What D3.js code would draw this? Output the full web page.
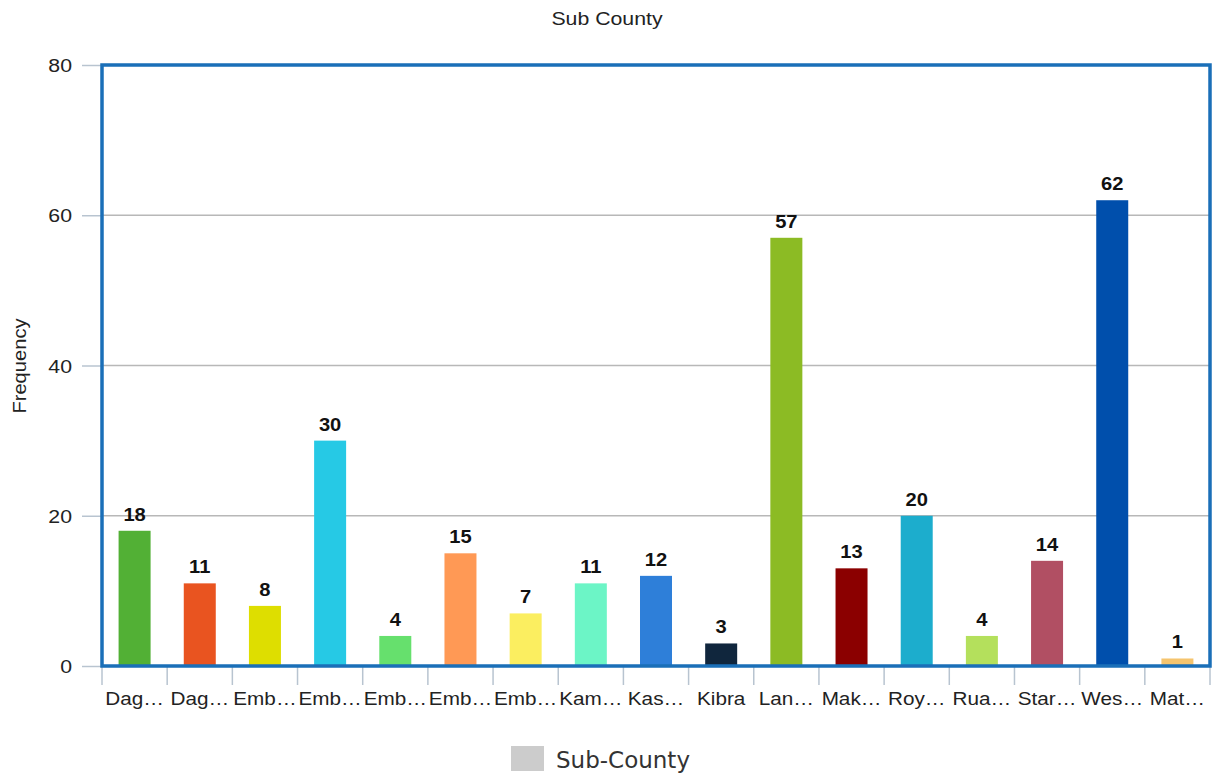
<!DOCTYPE html>
<html>
<head>
<meta charset="utf-8">
<script src="https://cdn.jsdelivr.net/npm/d3@7"></script>
<style>
  html, body { margin: 0; padding: 0; background: #fff; }
  svg { display: block; }
</style>
</head>
<body>
<svg id="chart" width="1213" height="775"></svg>
<script>
// Sub-county labels as shown on the axis, with their counts and bar colours
const categories = ["Dag…", "Dag…", "Emb…", "Emb…", "Emb…", "Emb…", "Emb…", "Kam…", "Kas…", "Kibra", "Lan…", "Mak…", "Roy…", "Rua…", "Star…", "Wes…", "Mat…"];
const values = [18, 11, 8, 30, 4, 15, 7, 11, 12, 3, 57, 13, 20, 4, 14, 62, 1];
const colors = ["#52b035", "#e95420", "#dede00", "#26c9e5", "#66e06d", "#ff9955", "#fbee60", "#6cf5c6", "#2e7fd9", "#10263d", "#8cbb24", "#8b0000", "#1cadcd", "#b4e05c", "#b14f63", "#004fac", "#f5c46e"];
const yTicks = [0, 20, 40, 60, 80];

const svg = d3.select("#chart");
const margin = { left: 102, right: 1210, top: 65, bottom: 666 };
const FONT = "Liberation Sans, Arial, sans-serif";
const SX = 1.12; // the chart's lettering is set slightly wide

const x = d3.scaleBand()
  .domain(d3.range(categories.length))
  .range([margin.left, margin.right])
  .paddingInner(0)
  .paddingOuter(0);

const y = d3.scaleLinear().domain([0, 80]).range([margin.bottom, margin.top]);

// Wide-set text helper
function label(g, px, py, str, opts = {}) {
  return g.append("text")
    .attr("transform", `translate(${px},${py})${opts.rotate ? ` rotate(${opts.rotate})` : ""} scale(${SX},1)`)
    .attr("text-anchor", opts.anchor || "middle")
    .attr("font-family", FONT)
    .attr("font-size", opts.size || 18)
    .attr("font-weight", opts.weight || "normal")
    .attr("fill", opts.fill || "#222")
    .text(str);
}

// Horizontal grid lines
svg.append("g")
  .selectAll("line")
  .data(yTicks.filter(d => d > 0 && d < 80))
  .join("line")
  .attr("x1", margin.left)
  .attr("x2", margin.right)
  .attr("y1", d => y(d))
  .attr("y2", d => y(d))
  .attr("stroke", "#b8b8b8")
  .attr("stroke-width", 1.3);

// Y axis ticks
const yAxis = d3.axisLeft(y).tickValues(yTicks).tickSize(20).tickFormat("");
const gy = svg.append("g")
  .attr("transform", `translate(${margin.left},0)`)
  .call(yAxis);
gy.select(".domain").remove();
gy.selectAll(".tick line").attr("stroke", "#b8c4d0").attr("stroke-width", 1.5);

// Y tick labels
const gyl = svg.append("g");
yTicks.forEach(t => label(gyl, 72, y(t) + 7, d3.format("d")(t), { anchor: "end", size: 19 }));

// X axis: boundary ticks between categories, labels centred on each band
const boundaries = d3.range(categories.length + 1).map(i => margin.left + i * x.bandwidth());
svg.append("g")
  .selectAll("line")
  .data(boundaries)
  .join("line")
  .attr("x1", d => d)
  .attr("x2", d => d)
  .attr("y1", margin.bottom)
  .attr("y2", margin.bottom + 19)
  .attr("stroke", "#b8c4d0")
  .attr("stroke-width", 1.5);

const gxl = svg.append("g");
categories.forEach((c, i) => label(gxl, x(i) + x.bandwidth() / 2, 705, c, { size: 18.5 }));

// Bars
const barW = 32;
svg.append("g")
  .selectAll("rect")
  .data(values)
  .join("rect")
  .attr("x", (d, i) => x(i) + x.bandwidth() / 2 - barW / 2)
  .attr("y", d => y(d))
  .attr("width", barW)
  .attr("height", d => y(0) - y(d))
  .attr("fill", (d, i) => colors[i]);

// Value labels
const gv = svg.append("g");
values.forEach((v, i) => label(gv, x(i) + x.bandwidth() / 2, y(v) - 10, v, { size: 18, weight: "bold", fill: "#111" }));

// Plot frame
svg.append("rect")
  .attr("x", margin.left)
  .attr("y", margin.top)
  .attr("width", margin.right - margin.left)
  .attr("height", margin.bottom - margin.top)
  .attr("fill", "none")
  .attr("stroke", "#1a6fb8")
  .attr("stroke-width", 3.5);

// Titles
label(svg, 607, 25, "Sub County", { size: 19 });
label(svg, 26, 366, "Frequency", { size: 18, rotate: -90 });

// Legend
svg.append("rect")
  .attr("x", 511)
  .attr("y", 746)
  .attr("width", 33)
  .attr("height", 25)
  .attr("fill", "#cccccc");
svg.append("text")
  .attr("x", 556)
  .attr("y", 768)
  .attr("font-family", "DejaVu Sans, sans-serif")
  .attr("font-size", 23)
  .attr("fill", "#333")
  .text("Sub-County");
</script>
</body>
</html>
